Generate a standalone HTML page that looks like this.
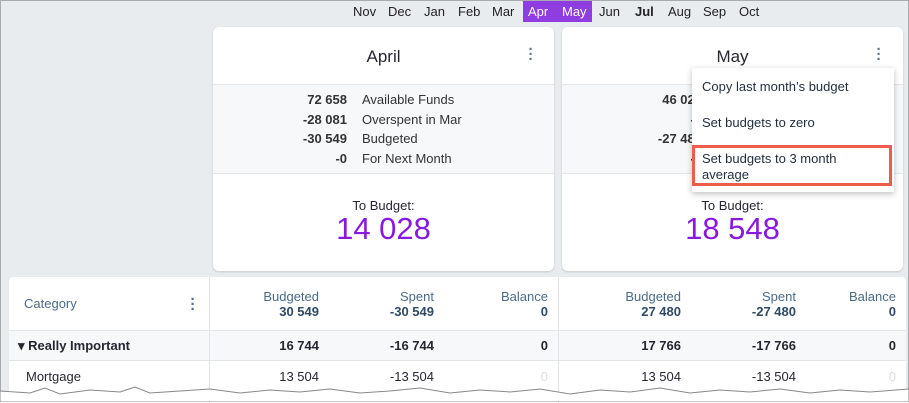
<!DOCTYPE html>
<html><head><style>
*{box-sizing:border-box;margin:0;padding:0}
body{width:909px;height:402px;overflow:hidden;background:#fff;font-family:"Liberation Sans",sans-serif;color:#272630;position:relative}
.frame{position:absolute;left:0;top:0;width:909px;height:402px;background:#e8ecef;border:1px solid #a8acb0}
.a{position:absolute;white-space:nowrap}
.m{font-size:13px;top:3px;color:#222}
.card{position:absolute;top:26px;width:341px;height:244px;background:#fff;border-radius:6px;box-shadow:0 1px 2px rgba(0,0,0,.15);overflow:hidden}
.card .t{position:absolute;top:20px;width:100%;text-align:center;font-size:17px}
.card .st{position:absolute;top:57px;left:0;right:0;height:90px;background:#f6f8fa;border-top:1px solid #e3e6e9;border-bottom:1px solid #e3e6e9}
.dots{position:absolute;font-size:15px;color:#5a7796;font-weight:bold;line-height:5px;width:6px;text-align:center}
.sr{position:absolute;font-size:13px;color:#333}
.n{text-align:right;width:60px;font-weight:bold}
.tb{position:absolute;top:171px;width:100%;text-align:center;font-size:13px}
.big{position:absolute;top:184px;width:100%;text-align:center;font-size:31px;color:#8719e0}
.tbl{position:absolute;left:8px;top:276px;width:897px;height:126px;background:#fff;border-radius:4px}
.h{font-size:13px;color:#4b6a8a;text-align:right;line-height:15px}
.h b{color:#2f4a66}
.r{font-size:13px;text-align:right}
</style></head><body>
<div class="frame">
<div class="a" style="left:522px;top:0;width:69px;height:21px;background:#8f3de0"></div>
<div class="a m" style="left:352px">Nov</div>
<div class="a m" style="left:387px">Dec</div>
<div class="a m" style="left:423px">Jan</div>
<div class="a m" style="left:457px">Feb</div>
<div class="a m" style="left:491px">Mar</div>
<div class="a m" style="left:527px;color:#fff">Apr</div>
<div class="a m" style="left:561px;color:#fff">May</div>
<div class="a m" style="left:598px">Jun</div>
<div class="a m" style="left:634px;font-weight:bold">Jul</div>
<div class="a m" style="left:667px">Aug</div>
<div class="a m" style="left:702px">Sep</div>
<div class="a m" style="left:738px">Oct</div>

<div class="card" style="left:212px">
<div class="t">April</div>
<div class="dots" style="left:315px;top:20px">·<br>·<br>·</div>
<div class="st">
<div class="sr n" style="left:74px;top:7px">72 658</div><div class="sr" style="left:149px;top:7px">Available Funds</div>
<div class="sr n" style="left:74px;top:27px">-28 081</div><div class="sr" style="left:149px;top:27px">Overspent in Mar</div>
<div class="sr n" style="left:74px;top:46px">-30 549</div><div class="sr" style="left:149px;top:46px">Budgeted</div>
<div class="sr n" style="left:74px;top:66px">-0</div><div class="sr" style="left:149px;top:66px">For Next Month</div>
</div>
<div class="tb">To Budget:</div>
<div class="big">14 028</div>
</div>

<div class="card" style="left:561px">
<div class="t">May</div>
<div class="dots" style="left:314px;top:20px">·<br>·<br>·</div>
<div class="st">
<div class="sr n" style="left:80px;top:7px">46 023</div>
<div class="sr n" style="left:80px;top:27px">-0</div>
<div class="sr n" style="left:80px;top:46px">-27 480</div>
<div class="sr n" style="left:80px;top:66px">-0</div>
</div>
<div class="tb">To Budget:</div>
<div class="big">18 548</div>
</div>

<div class="a" style="left:691px;top:67px;width:202px;height:124px;background:#fff;box-shadow:0 2px 6px rgba(0,0,0,.25)"></div>
<div class="a" style="left:701px;top:78px;font-size:13px;color:#1f2d3d">Copy last month’s budget</div>
<div class="a" style="left:701px;top:114px;font-size:13px;color:#1f2d3d">Set budgets to zero</div>
<div class="a" style="left:691px;top:144px;width:200px;height:41px;border:3px solid #ec5d4b"></div>
<div class="a" style="left:701px;top:150px;font-size:13px;color:#1f2d3d;line-height:16px">Set budgets to 3 month<br>average</div>

<div class="tbl">
<div class="a" style="left:0;top:53px;width:897px;height:31px;background:#f6f8fa;border-top:1px solid #e3e6e9;border-bottom:1px solid #e3e6e9"></div>
<div class="a" style="left:200px;top:0;width:1px;height:126px;background:#e3e6e9"></div>
<div class="a" style="left:549px;top:0;width:1px;height:126px;background:#e3e6e9"></div>
<div class="a" style="left:15px;top:19px;font-size:13px;color:#4b6a8a">Category</div>
<div class="dots" style="left:181px;top:20px;color:#4b6a8a">·<br>·<br>·</div>
<div class="a h" style="right:587px;top:12px">Budgeted<br><b>30 549</b></div>
<div class="a h" style="right:472px;top:12px">Spent<br><b>-30 549</b></div>
<div class="a h" style="right:358px;top:12px">Balance<br><b>0</b></div>
<div class="a h" style="right:225px;top:12px">Budgeted<br><b>27 480</b></div>
<div class="a h" style="right:110px;top:12px">Spent<br><b>-27 480</b></div>
<div class="a h" style="right:10px;top:12px">Balance<br><b>0</b></div>
<div class="a" style="left:9px;top:61px;font-size:13px;font-weight:bold">▾ Really Important</div>
<div class="a r" style="right:587px;top:61px;font-weight:bold">16 744</div>
<div class="a r" style="right:472px;top:61px;font-weight:bold">-16 744</div>
<div class="a r" style="right:358px;top:61px;font-weight:bold">0</div>
<div class="a r" style="right:225px;top:61px;font-weight:bold">17 766</div>
<div class="a r" style="right:110px;top:61px;font-weight:bold">-17 766</div>
<div class="a r" style="right:10px;top:61px;font-weight:bold">0</div>
<div class="a" style="left:17px;top:92px;font-size:13px">Mortgage</div>
<div class="a r" style="right:587px;top:92px">13 504</div>
<div class="a r" style="right:472px;top:92px">-13 504</div>
<div class="a r" style="right:358px;top:92px;color:#ddd">0</div>
<div class="a r" style="right:225px;top:92px">13 504</div>
<div class="a r" style="right:110px;top:92px">-13 504</div>
<div class="a r" style="right:10px;top:92px;color:#ddd">0</div>
</div>
</div>
<svg class="a" style="left:0;top:384px" width="909" height="18"><polygon fill="#fff" stroke="#888" stroke-width="1" points="0,7 30,9 45,4 60,10 90,6 120,8 135,3 150,9 180,7 210,5 240,9 270,6 300,8 330,5 360,9 390,7 420,4 450,9 480,6 510,8 540,5 570,10 600,6 630,8 660,4 690,9 720,6 750,8 780,5 810,9 840,6 870,8 909,5 909,18 0,18"/></svg>
</body></html>
